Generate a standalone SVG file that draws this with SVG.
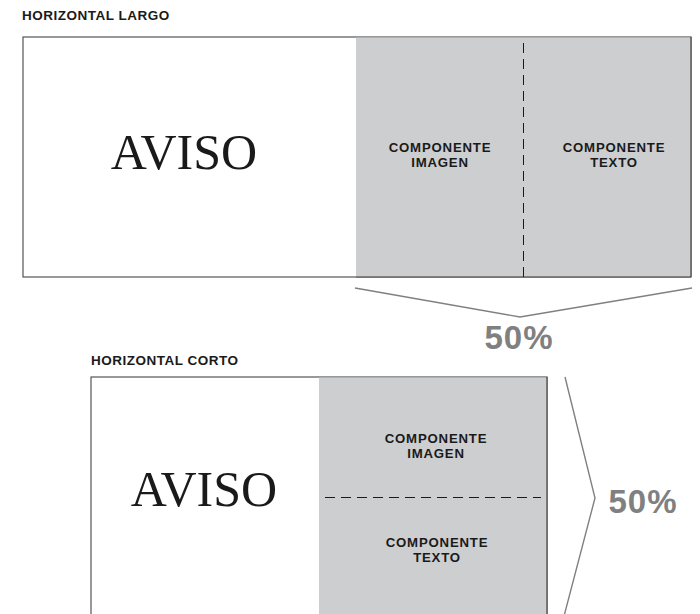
<svg xmlns="http://www.w3.org/2000/svg" width="700" height="614" viewBox="0 0 700 614">
<style>
.title{font-family:"Liberation Sans",Arial,sans-serif;font-weight:bold;font-size:13.5px;letter-spacing:0.5px;fill:#1a1a1a}
.aviso{font-family:"Liberation Serif","Times New Roman",serif;font-size:50px;fill:#1a1a1a;text-anchor:middle}
.comp{font-family:"Liberation Sans",Arial,sans-serif;font-weight:bold;font-size:13.2px;letter-spacing:0.8px;fill:#1a1a1a;text-anchor:middle}
.pct{font-family:"Liberation Sans",Arial,sans-serif;font-weight:bold;font-size:33px;fill:#808080;text-anchor:middle;letter-spacing:1px}
.frame{fill:#fff;stroke:#555;stroke-width:1.2}
.grey{fill:#cdced0}
.dash{stroke:#1a1a1a;stroke-width:1;stroke-dasharray:10,6;fill:none}
.chev{stroke:#808080;stroke-width:1.4;fill:none}
</style>
<rect width="700" height="614" fill="#fff"/>
<g id="largo">
<text class="title" x="22" y="20">HORIZONTAL LARGO</text>
<rect class="frame" x="23" y="37" width="668" height="240"/>
<rect class="grey" x="356" y="37.6" width="334.4" height="238.8"/>
<line x1="691" y1="37" x2="691" y2="277" stroke="#555" stroke-width="1.2"/>
<line x1="356" y1="277" x2="691" y2="277" stroke="#555" stroke-width="1.2"/>
<text class="aviso" x="184" y="169">AVISO</text>
<text class="comp" x="440" y="151.5">COMPONENTE</text>
<text class="comp" x="440" y="166.5">IMAGEN</text>
<text class="comp" x="614" y="151.5">COMPONENTE</text>
<text class="comp" x="614" y="166.5">TEXTO</text>
</g>
<g id="corto">
<text class="title" x="91" y="365">HORIZONTAL CORTO</text>
<rect class="frame" x="91" y="377" width="456" height="250"/>
<rect class="grey" x="319" y="377.6" width="227.4" height="245"/>
<line x1="547" y1="377" x2="547" y2="614" stroke="#555" stroke-width="1.2"/>
<text class="aviso" x="204" y="506">AVISO</text>
<text class="comp" x="436" y="442.5">COMPONENTE</text>
<text class="comp" x="436" y="457.5">IMAGEN</text>
<text class="comp" x="437" y="547">COMPONENTE</text>
<text class="comp" x="437" y="562">TEXTO</text>
</g>
<g id="connectors">
<line class="dash" x1="523.5" y1="43" x2="523.5" y2="277"/>
<line class="dash" x1="325" y1="497.5" x2="541" y2="497.5"/>
<polyline class="chev" points="355,288 520,317 692,288"/>
<polyline class="chev" points="565,377 595,498 563,620"/>
</g>
<text class="pct" x="519" y="349">50%</text>
<text class="pct" x="643" y="513">50%</text>
</svg>
